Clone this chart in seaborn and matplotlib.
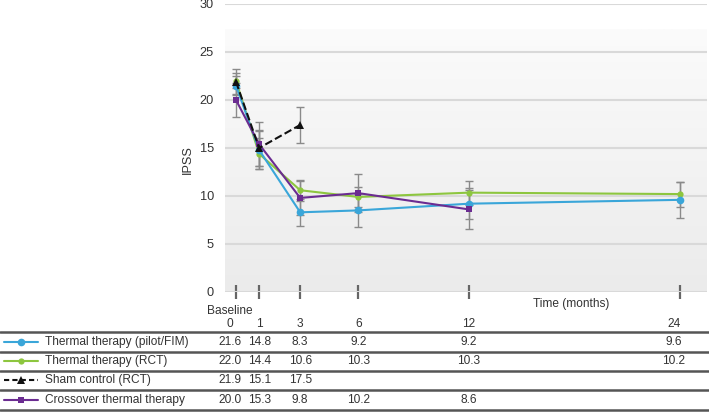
import numpy as np
import pandas as pd
import matplotlib
matplotlib.use("Agg")
import matplotlib.pyplot as plt
import matplotlib.transforms as mtransforms
from matplotlib.lines import Line2D
import seaborn as sns

# ---------------- data ----------------
months = [0, 1, 3, 6, 12, 24]
series_names = ["Thermal therapy (pilot/FIM)", "Thermal therapy (RCT)",
                "Sham control (RCT)", "Crossover thermal therapy"]

# plotted means
pilot_mean = [21.5, 14.8, 8.3, 8.5, 9.2, 9.6]
rct_mean = [22.0, 14.4, 10.6, 9.9, 10.35, 10.2]
sham_mean = [21.9, 15.0, 17.4]
cross_mean = [20.0, 15.4, 9.8, 10.3, 8.6]

# error bar half-widths
pilot_err = [1.0, 2.0, 1.4, 1.7, 1.6, 1.9]
rct_err = [0.8, 1.6, 1.1, 1.0, 1.25, 1.3]
sham_err = [1.3, 1.9, 1.9]
cross_err = [1.8, 2.3, 1.8, 2.0, 2.0]

# table values
pilot_tab = ["21.6", "14.8", "8.3", "9.2", "9.2", "9.6"]
rct_tab = ["22.0", "14.4", "10.6", "10.3", "10.3", "10.2"]
sham_tab = ["21.9", "15.1", "17.5"]
cross_tab = ["20.0", "15.3", "9.8", "10.2", "8.6"]

y_ticks = [0, 5, 10, 15, 20, 25, 30]
x_tick_labels = ["0", "1", "3", "6", "12", "24"]

# ---------------- style ----------------
sns.set_theme(style="white")
plt.rcParams["font.family"] = ["Liberation Sans", "DejaVu Sans"]

c_pilot = "#3aa6d9"
c_rct = "#8dc63f"
c_sham = "#111111"
c_cross = "#6b2c91"
txt_c = "#333333"
fs = 8.6

W, H = 709, 416
fig = plt.figure(figsize=(W / 100, H / 100), dpi=100)

def fx(px):
    return px / W

def fy(py):
    return 1 - py / H

P = 0.93
def fwd(t):
    t = np.asarray(t, dtype=float)
    return np.sign(t) * np.abs(t) ** P

def inv(u):
    u = np.asarray(u, dtype=float)
    return np.sign(u) * np.abs(u) ** (1 / P)

ax = fig.add_axes([fx(225), fy(292), fx(707) - fx(225), fy(4) - fy(292)])
ax.set_xscale("function", functions=(fwd, inv))
xlim = (-0.45, 25.57)
ax.set_xlim(*xlim)
ax.set_ylim(0, 30)

# gradient background (axes coords)
grad = np.linspace(0, 1, 256).reshape(-1, 1)
cmap = matplotlib.colors.LinearSegmentedColormap.from_list("g", ["#ebebeb", "#fbfbfb"])
ax.imshow(grad, extent=(0, 1, 0, 27.3 / 30), origin="lower", aspect="auto",
          cmap=cmap, zorder=0, transform=ax.transAxes)
ax.set_xlim(*xlim)
ax.set_ylim(0, 30)

for yv in y_ticks:
    ax.axhline(yv, color="#d9d9d9", lw=1.5, zorder=1)

series = [
    (pilot_mean, pilot_err, c_pilot, "o", "-", 5.5),
    (rct_mean, rct_err, c_rct, "o", "-", 4.5),
    (sham_mean, sham_err, c_sham, "^", "--", 5.5),
    (cross_mean, cross_err, c_cross, "s", "-", 5.0),
]
order = [1, 0, 3, 2]
for i in order:
    m, e, c, mk, ls, ms = series[i]
    x = months[:len(m)]
    ax.errorbar(x, m, yerr=e, fmt="none", ecolor="#8a8a8a", elinewidth=1.0,
                capsize=2.8, capthick=1.0, zorder=2)
for i in order:
    m, e, c, mk, ls, ms = series[i]
    x = months[:len(m)]
    df = pd.DataFrame({"t": x, "v": m})
    sns.lineplot(data=df, x="t", y="v", color=c, marker=mk, markersize=ms,
                 markeredgewidth=0, linestyle=ls, lw=1.5, ax=ax, zorder=3)

ax.set_xscale("function", functions=(fwd, inv))
ax.set_xlim(*xlim)
ax.set_xticks(months)
ax.set_xticks([], minor=True)
ax.set_xticklabels([])
ax.tick_params(axis="x", direction="inout", length=10, width=1.6, color="#666666",
               bottom=True, labelbottom=False)
ax.set_yticks(y_ticks)
ax.set_yticklabels([str(v) for v in y_ticks], fontsize=fs + 0.6, color=txt_c)
ax.tick_params(axis="y", length=0, pad=8)
ax.set_xlabel("")
ax.set_ylabel("")
for s in ax.spines.values():
    s.set_visible(False)

fig.text(fx(188), fy(160), "IPSS", rotation=90, ha="center", va="center",
         fontsize=fs + 0.6, color=txt_c)

# ---------------- table ----------------
tr = mtransforms.blended_transform_factory(ax.transData, fig.transFigure)
fig.text(fx(230), fy(311), "Baseline", ha="center", va="center", fontsize=fs, color=txt_c)
fig.text(fx(571), fy(304), "Time (months)", ha="center", va="center", fontsize=fs, color=txt_c)

col_shift = [-0.25, 0, 0, 0, 0, -0.35]
for j, lab in enumerate(x_tick_labels):
    ax.text(months[j] + col_shift[j], fy(324), lab, transform=tr, ha="center", va="center",
            fontsize=fs, color=txt_c, clip_on=False)

row_y = [342, 361, 380, 400]
tabs = [pilot_tab, rct_tab, sham_tab, cross_tab]
for r in range(4):
    for j, v in enumerate(tabs[r]):
        ax.text(months[j] + col_shift[j], fy(row_y[r]), v, transform=tr, ha="center",
                va="center", fontsize=fs, color=txt_c, clip_on=False)
    m, e, c, mk, ls, ms = series[r]
    fig.add_artist(Line2D([fx(4), fx(38)], [fy(row_y[r])] * 2, color=c, lw=1.5,
                          linestyle=("--" if ls == "--" else "-"),
                          dashes=(2.5, 1.5) if ls == "--" else (None, None)))
    fig.add_artist(Line2D([fx(21)], [fy(row_y[r])], color=c, marker=mk,
                          markersize=ms, markeredgewidth=0))
    fig.text(fx(45), fy(row_y[r]), series_names[r], ha="left", va="center",
             fontsize=fs, color=txt_c)

for ly in [331.5, 352, 371, 389.5, 410]:
    fig.add_artist(Line2D([0, 1], [fy(ly)] * 2, color="#555555", lw=1.8))

fig.savefig("out.png", dpi=100)
